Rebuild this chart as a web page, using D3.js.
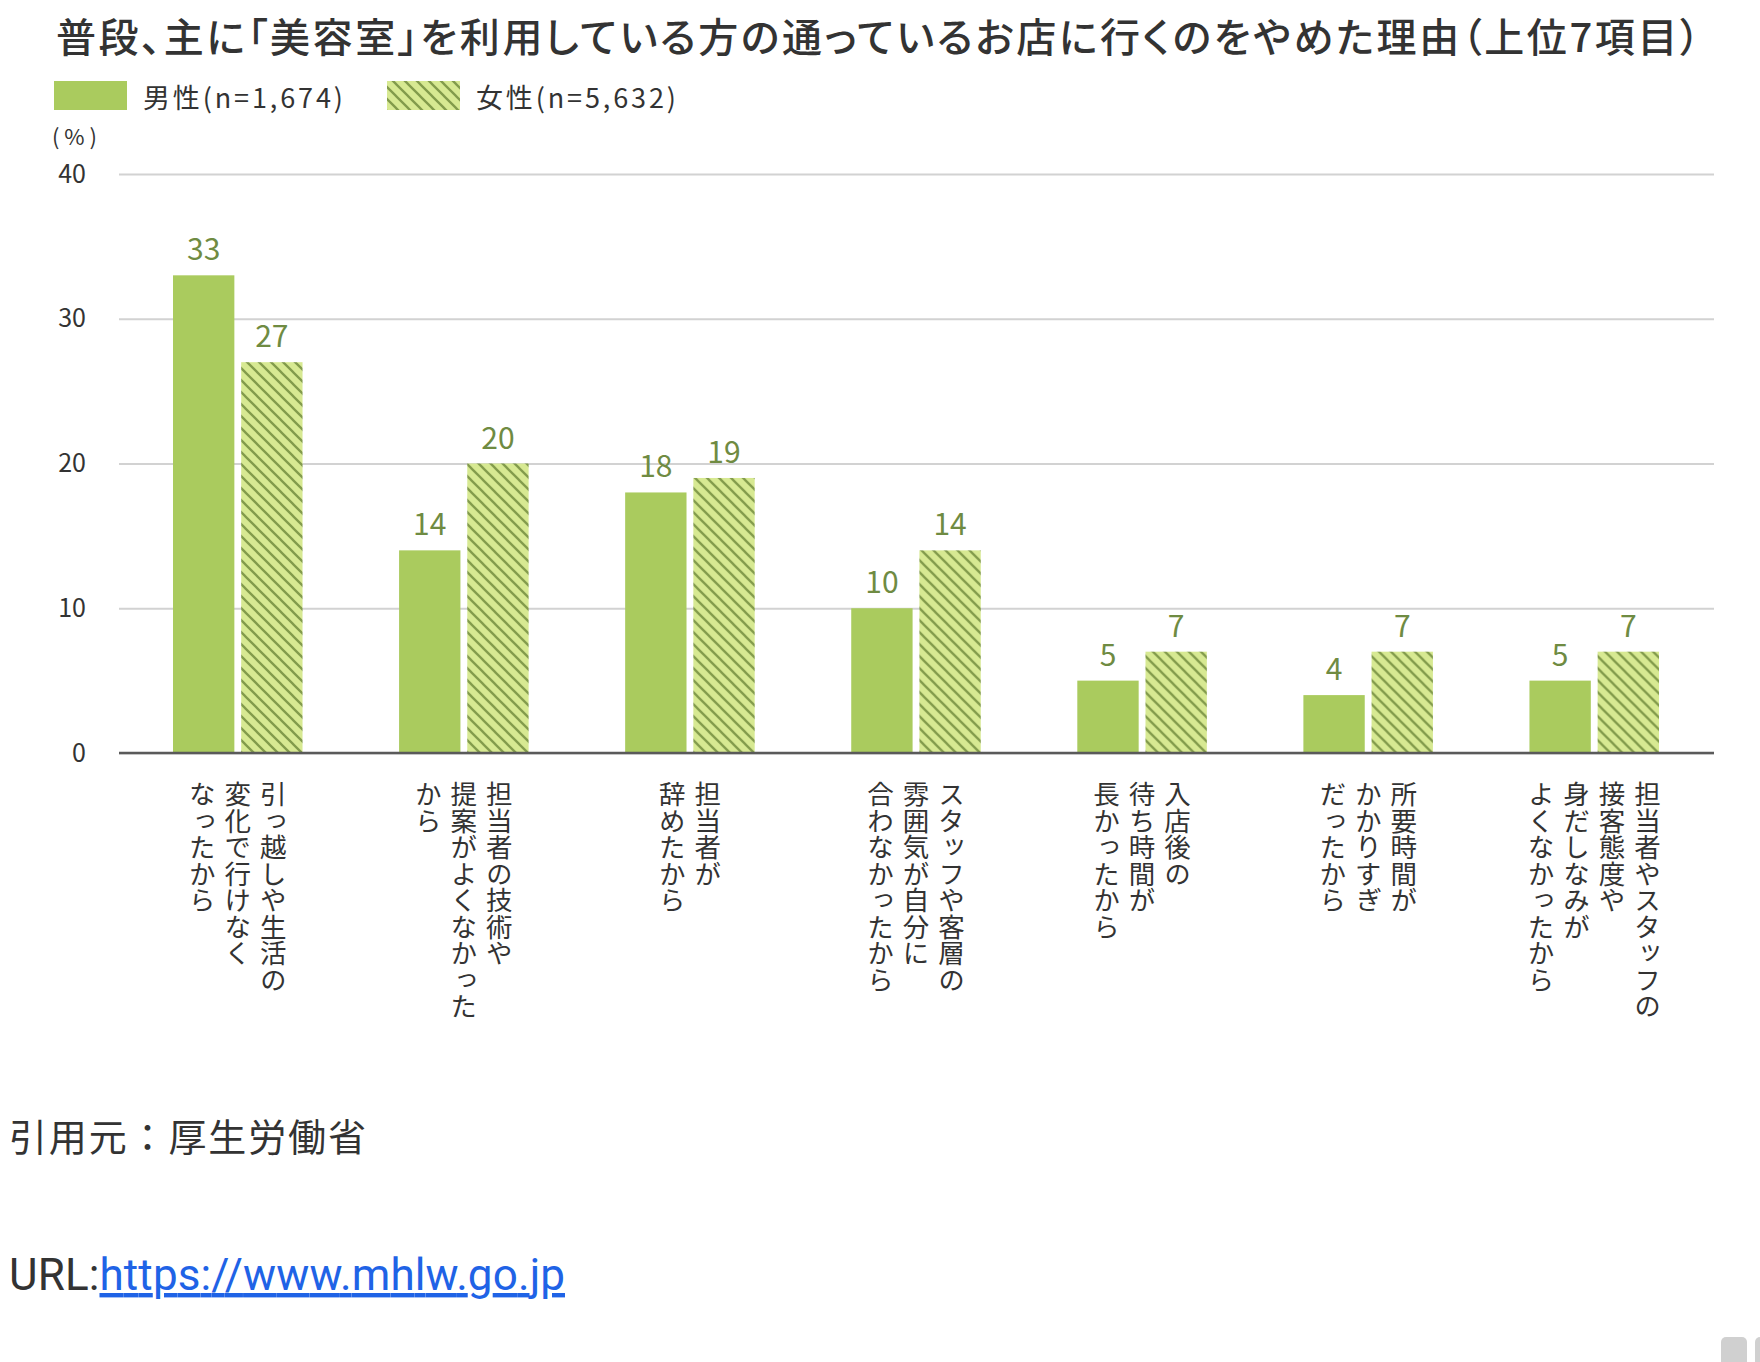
<!DOCTYPE html>
<html lang="ja">
<head>
<meta charset="UTF-8">
<title>美容室をやめた理由</title>
<script src="https://d3js.org/d3.v7.min.js"></script>
<style>
  body { margin: 0; background: #fff; }
  svg { display: block; }
  text { font-family: "Noto Sans CJK JP", "Noto Sans", sans-serif; fill: #333; }
</style>
</head>
<body>
<div id="chart"></div>
<script>
// data
var categories = ["引っ越し", "技術・提案", "担当者退職", "雰囲気", "待ち時間", "所要時間", "接客態度"];
var categoryLines = [
    ["引っ越しや生活の", "変化で行けなく", "なったから"],
    ["担当者の技術や", "提案がよくなかった", "から"],
    ["担当者が", "辞めたから"],
    ["スタッフや客層の", "雰囲気が自分に", "合わなかったから"],
    ["入店後の", "待ち時間が", "長かったから"],
    ["所要時間が", "かかりすぎ", "だったから"],
    ["担当者やスタッフの", "接客態度や", "身だしなみが", "よくなかったから"]
];
var maleValues = [33, 14, 18, 10, 5, 4, 5];
var femaleValues = [27, 20, 19, 14, 7, 7, 7];
var seriesNames = ["男性(n=1,674)", "女性(n=5,632)"];
var yTicks = [0, 10, 20, 30, 40];

var W = 1760, H = 1362;
var plot = {left: 119, right: 1714, top: 174, bottom: 753};

var svg = d3.select("#chart").append("svg")
    .attr("width", W)
    .attr("height", H);

// hatch pattern for the women's bars
var defs = svg.append("defs");
var pat = defs.append("pattern")
    .attr("id", "hatch")
    .attr("patternUnits", "userSpaceOnUse")
    .attr("width", 12)
    .attr("height", 12);
pat.append("rect").attr("width", 12).attr("height", 12).attr("fill", "#d7e992");
pat.append("path")
    .attr("d", "M0,0 L12,12 M-6,6 L6,18 M6,-6 L18,6")
    .attr("stroke", "#829b4b")
    .attr("stroke-width", 2.3);

var colors = ["#aacb5e", "url(#hatch)"];

// title
svg.append("text")
    .attr("x", 56)
    .attr("y", 52)
    .attr("textLength", 1644)
    .attr("lengthAdjust", "spacing")
    .style("font-size", "40px")
    .style("font-weight", 500)
    .style("font-feature-settings", "'palt'")
    .text("普段、主に「美容室」を利用している方の通っているお店に行くのをやめた理由（上位7項目）");

// legend
var legendX = [54, 387];
seriesNames.forEach(function(name, i) {
    svg.append("rect")
        .attr("x", legendX[i])
        .attr("y", 81)
        .attr("width", 73)
        .attr("height", 29)
        .attr("fill", colors[i]);
    svg.append("text")
        .attr("x", legendX[i] + 89)
        .attr("y", 96)
        .attr("dominant-baseline", "central")
        .attr("textLength", 200)
        .attr("lengthAdjust", "spacing")
        .style("font-size", "27px")
        .text(name);
});

// scales
var y = d3.scaleLinear().domain([0, 40]).range([plot.bottom, plot.top]);

var x0 = d3.scaleBand()
    .domain(categories)
    .range([173, 1659])
    .paddingInner(0.427)
    .paddingOuter(0);

var x1 = d3.scaleBand()
    .domain(["male", "female"])
    .range([0, x0.bandwidth()])
    .paddingInner(0.1);

// y axis + grid
var yAxis = d3.axisLeft(y)
    .tickValues(yTicks)
    .tickSize(-(plot.right - plot.left))
    .tickPadding(33);

var gy = svg.append("g")
    .attr("transform", "translate(" + plot.left + ",0)")
    .call(yAxis);
gy.select(".domain").remove();
gy.selectAll(".tick line").attr("stroke", "#d2d2d2").attr("stroke-width", 2);
gy.selectAll(".tick text")
    .style("font-size", "25px")
    .attr("fill", "#333");

svg.append("text")
    .attr("x", 52)
    .attr("y", 135)
    .attr("dominant-baseline", "central")
    .attr("textLength", 45)
    .attr("lengthAdjust", "spacing")
    .style("font-size", "22px")
    .text("(%)");

// bars
var groups = svg.append("g").selectAll("g")
    .data(categories)
    .enter()
    .append("g")
    .attr("transform", function(d) { return "translate(" + x0(d) + ",0)"; });

groups.each(function(d, i) {
    var g = d3.select(this);
    var vals = [{k: "male", v: maleValues[i]}, {k: "female", v: femaleValues[i]}];
    g.selectAll("rect")
        .data(vals)
        .enter()
        .append("rect")
        .attr("x", function(e) { return x1(e.k); })
        .attr("y", function(e) { return y(e.v); })
        .attr("width", x1.bandwidth())
        .attr("height", function(e) { return y(0) - y(e.v); })
        .attr("fill", function(e, j) { return colors[j]; });
    g.selectAll("text.val")
        .data(vals)
        .enter()
        .append("text")
        .attr("class", "val")
        .attr("x", function(e) { return x1(e.k) + x1.bandwidth() / 2; })
        .attr("y", function(e) { return y(e.v) - 15; })
        .attr("text-anchor", "middle")
        .style("font-size", "30px")
        .style("fill", "#6f8b42")
        .text(function(e) { return e.v; });
});

// baseline
svg.append("line")
    .attr("x1", plot.left)
    .attr("x2", plot.right)
    .attr("y1", y(0))
    .attr("y2", y(0))
    .attr("stroke", "#5a5a5a")
    .attr("stroke-width", 2.5);

// vertical category labels, columns read right to left
var colGap = 35.5;
categories.forEach(function(c, i) {
    var lines = categoryLines[i];
    var cx = x0(c) + x0.bandwidth() / 2;
    lines.forEach(function(line, j) {
        svg.append("text")
            .attr("x", cx + ((lines.length - 1) / 2 - j) * colGap)
            .attr("y", 781)
            .style("writing-mode", "vertical-rl")
            .style("font-size", "26.5px")
            .text(line);
    });
});

// source
svg.append("text")
    .attr("x", 9)
    .attr("y", 1134)
    .attr("dominant-baseline", "central")
    .attr("textLength", 357)
    .attr("lengthAdjust", "spacing")
    .style("font-size", "38px")
    .text("引用元：厚生労働省");

var url = svg.append("text")
    .attr("x", 9)
    .attr("y", 1290)
    .attr("textLength", 556)
    .attr("lengthAdjust", "spacing")
    .style("font-size", "44px")
    .style("font-family", "Roboto, 'Liberation Sans', sans-serif");
url.append("tspan").text("URL:");
url.append("tspan")
    .style("fill", "#1f63e6")
    .style("text-decoration", "underline")
    .text("https://www.mhlw.go.jp");

// corner widgets
svg.append("rect").attr("x", 1721).attr("y", 1337).attr("width", 26).attr("height", 34).attr("rx", 5).attr("fill", "#d0d0d0");
svg.append("rect").attr("x", 1755).attr("y", 1337).attr("width", 26).attr("height", 34).attr("rx", 5).attr("fill", "#d0d0d0");
</script>
</body>
</html>
